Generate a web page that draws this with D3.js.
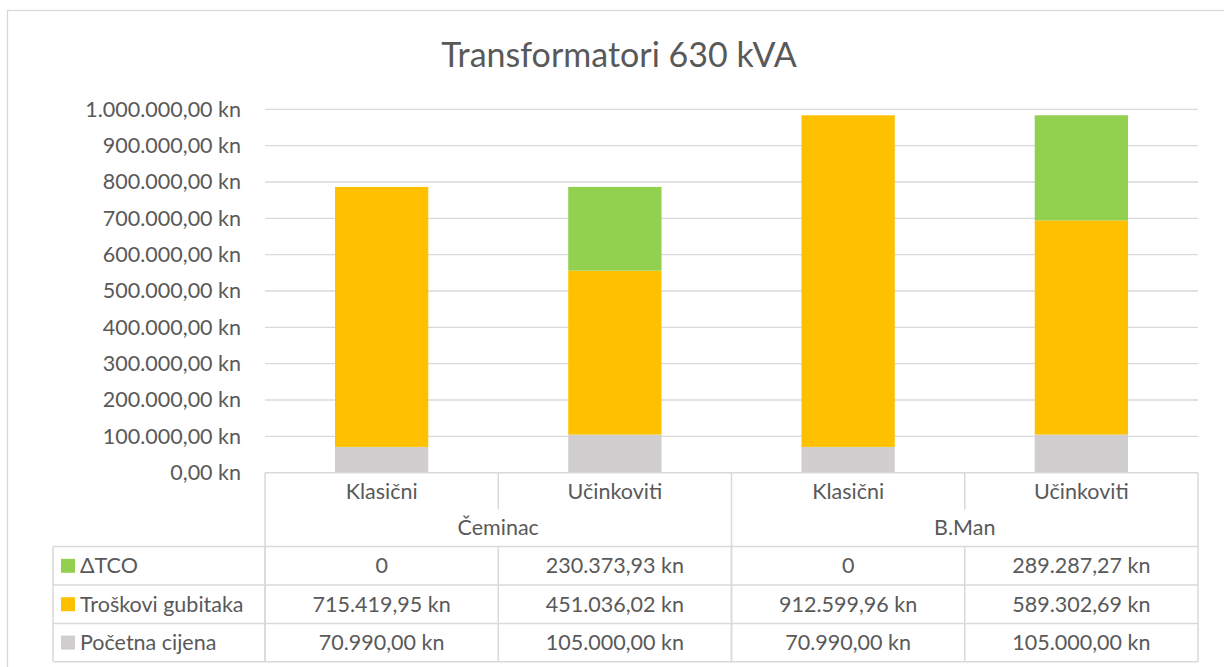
<!DOCTYPE html>
<html>
<head>
<meta charset="utf-8">
<script src="https://cdn.jsdelivr.net/npm/d3@7"></script>
<style>
  body { margin: 0; background: #fff; }
  svg text { font-family: Lato, "Open Sans", sans-serif; fill: #595959; }
</style>
</head>
<body>
<div id="chart"></div>
<script>
// categories: two locations, each with a classic and an efficient transformer
const groups = ['Čeminac', 'B.Man'];
const types = ['Klasični', 'Učinkoviti'];
const categories = ['Čeminac|Klasični', 'Čeminac|Učinkoviti', 'B.Man|Klasični', 'B.Man|Učinkoviti'];

// series values (kn), same order as categories
const pocetnaCijena = [70990.00, 105000.00, 70990.00, 105000.00];
const troskoviGubitaka = [715419.95, 451036.02, 912599.96, 589302.69];
const deltaTCO = [0, 230373.93, 0, 289287.27];

const seriesNames = ['Početna cijena', 'Troškovi gubitaka', 'ΔTCO'];
const seriesColors = ['#D0CECE', '#FFC000', '#92D050'];

const yTicks = [0, 100000, 200000, 300000, 400000, 500000, 600000, 700000, 800000, 900000, 1000000];

const width = 1224;
const height = 667;
const margin = {top: 109.3, right: 26, bottom: 194.3, left: 265};
const rowH = 38.4;
const legendLeft = 53;

const hr = d3.formatLocale({decimal: ',', thousands: '.', grouping: [3], currency: ['', ' kn']});
const kn = hr.format('$,.2f');

const rows = categories.map((c, i) => ({
    cat: c,
    'Početna cijena': pocetnaCijena[i],
    'Troškovi gubitaka': troskoviGubitaka[i],
    'ΔTCO': deltaTCO[i]
}));

const svg = d3.select('#chart').append('svg')
    .attr('width', width)
    .attr('height', height);

// chart frame, runs off the right and bottom edge like the screenshot
svg.append('rect')
    .attr('x', 7.5).attr('y', 10.5)
    .attr('width', 1230).attr('height', 700)
    .attr('fill', 'none')
    .attr('stroke', '#D9D9D9')
    .attr('stroke-width', 1.3);

const x = d3.scaleBand()
    .domain(categories)
    .range([margin.left, width - margin.right])
    .paddingInner(0.6)
    .paddingOuter(0.3);

const step = x.step();
const x0 = margin.left;
const x1 = width - margin.right;

const y = d3.scaleLinear()
    .domain([0, 1000000])
    .range([height - margin.bottom, margin.top]);

svg.append('text')
    .attr('x', 619)
    .attr('y', 67)
    .attr('text-anchor', 'middle')
    .style('font-size', '34px')
    .text('Transformatori 630 kVA');

// gridlines
svg.append('g')
    .selectAll('line')
    .data(yTicks.filter(d => d > 0))
    .join('line')
    .attr('x1', x0).attr('x2', x1)
    .attr('y1', d => y(d)).attr('y2', d => y(d))
    .attr('stroke', '#D9D9D9')
    .attr('stroke-width', 1.3);

// y axis labels
const yAxis = svg.append('g')
    .attr('transform', `translate(${x0}, 0)`)
    .call(d3.axisLeft(y).tickValues(yTicks).tickFormat(kn).tickSize(0).tickPadding(24));
yAxis.select('.domain').remove();
yAxis.selectAll('text')
    .style('font-size', '21.5px')
    .style('font-family', 'Lato, sans-serif')
    .attr('fill', '#595959');

// stacked bars
const stack = d3.stack().keys(seriesNames);
const stacked = stack(rows);

svg.append('g')
    .selectAll('g')
    .data(stacked)
    .join('g')
    .attr('fill', (d, i) => seriesColors[i])
    .selectAll('rect')
    .data(d => d)
    .join('rect')
    .attr('x', d => x(d.data.cat))
    .attr('width', x.bandwidth())
    .attr('y', d => y(d[1]))
    .attr('height', d => y(d[0]) - y(d[1]));

// data table under the plot
const tY = y(0);
const catRowY = tY + 36.9;
const grpRowY = tY + 73.9;
const table = svg.append('g')
    .attr('stroke', '#D9D9D9')
    .attr('stroke-width', 1.5)
    .attr('fill', 'none');

const hline = (xa, xb, yy) => table.append('line').attr('x1', xa).attr('x2', xb).attr('y1', yy).attr('y2', yy);
const vline = (xx, ya, yb) => table.append('line').attr('x1', xx).attr('x2', xx).attr('y1', ya).attr('y2', yb);

hline(x0, x1, tY);
hline(legendLeft, x1, grpRowY);
for (let r = 1; r <= seriesNames.length; r++) {
    hline(legendLeft, x1, grpRowY + r * rowH);
}
vline(legendLeft, grpRowY, grpRowY + seriesNames.length * rowH);
categories.forEach((c, i) => {
    const xl = x0 + i * step;
    if (i % 2 === 1) {
        vline(xl, tY, catRowY);
    } else {
        vline(xl, tY, grpRowY + seriesNames.length * rowH);
    }
    vline(xl, grpRowY, grpRowY + seriesNames.length * rowH);
});
vline(x1, tY, grpRowY + seriesNames.length * rowH);

const labels = svg.append('g').style('font-size', '21.5px');

categories.forEach((c, i) => {
    labels.append('text')
        .attr('x', x(c) + x.bandwidth() / 2)
        .attr('y', tY + 26)
        .attr('text-anchor', 'middle')
        .text(types[i % 2]);
});
groups.forEach((g, i) => {
    labels.append('text')
        .attr('x', x0 + step * (2 * i + 1))
        .attr('y', tY + 62.5)
        .attr('text-anchor', 'middle')
        .text(g);
});

// table rows: top row is the top of the stack
const tableOrder = seriesNames.map((n, i) => i).reverse();
tableOrder.forEach((si, r) => {
    const name = seriesNames[si];
    const rowTop = grpRowY + r * rowH;
    svg.append('rect')
        .attr('x', 61).attr('y', rowTop + rowH / 2 - 7)
        .attr('width', 14).attr('height', 14)
        .attr('fill', seriesColors[si]);
    labels.append('text')
        .attr('x', 80)
        .attr('y', rowTop + rowH / 2 + 7.5)
        .text(name);
    rows.forEach(d => {
        const v = d[name];
        labels.append('text')
            .attr('x', x(d.cat) + x.bandwidth() / 2)
            .attr('y', rowTop + rowH / 2 + 7.5)
            .attr('text-anchor', 'middle')
            .text(v === 0 ? '0' : kn(v));
    });
});
</script>
</body>
</html>
